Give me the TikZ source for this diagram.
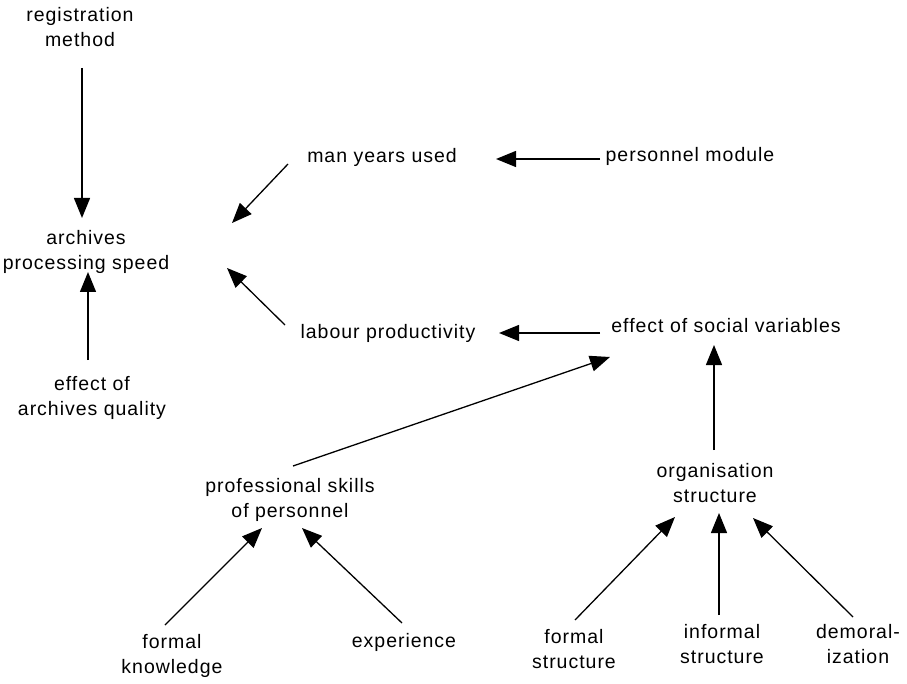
\documentclass[tikz,border=0pt]{standalone}
\usepackage{fontspec}
\setmainfont[LetterSpace=5]{Liberation Sans}
\usetikzlibrary{arrows.meta}
\begin{document}
\begin{tikzpicture}[x=1pt,y=-1pt,
  label/.style={anchor=base,align=center,inner sep=0pt,
    font=\fontsize{19.5}{25}\selectfont},
  arr/.style={-{Triangle[length=20pt,width=16pt]},line width=1.3pt}]
\useasboundingbox (0,0) rectangle (907,684);

% variables (anchored at the baseline of their last line)
\node[label] (reg)  at (80,47)   {registration\\method};
\node[label] (arch) at (86,270)  {archives\\processing speed};
\node[label] (eaq)  at (92,415)  {effect of\\archives quality};
\node[label] (man)  at (382,163) {man years used};
\node[label] (pers) at (690,162) {personnel module};
\node[label] (lab)  at (388,338) {labour productivity};
\node[label] (soc)  at (726,333) {effect of social variables};
\node[label] (prof) at (290,517) {professional skills\\of personnel};
\node[label] (org)  at (715,502) {organisation\\structure};
\node[label] (fk)   at (172,673) {formal\\knowledge};
\node[label] (exp)  at (404,647) {experience};
\node[label] (fs)   at (574,668) {formal\\structure};
\node[label] (is)   at (722,663) {informal\\structure};
\node[label] (dem)  at (858,663) {demoral-\\ization};

% influences
\draw[arr] ([shift={(2,21)}]reg.base)     -- ([shift={(-4,-52)}]arch.base);
\draw[arr] ([shift={(-4,-55)}]eaq.base)   -- ([shift={(2,2)}]arch.base);
\draw[arr] ([shift={(-94,1)}]man.base)    -- ([shift={(146,-47)}]arch.base);
\draw[arr] ([shift={(-90,-3)}]pers.base)  -- ([shift={(114,-4)}]man.base);
\draw[arr] ([shift={(-103,-13)}]lab.base) -- ([shift={(141,-2)}]arch.base);
\draw[arr] ([shift={(-126,0)}]soc.base)   -- ([shift={(111,-5)}]lab.base);
\draw[arr] ([shift={(3,-51)}]prof.base)   -- ([shift={(-116,24)}]soc.base);
\draw[arr] ([shift={(-1,-52)}]org.base)   -- ([shift={(-12,12)}]soc.base);
\draw[arr] ([shift={(-7,-48)}]fk.base)    -- ([shift={(-28,11)}]prof.base);
\draw[arr] ([shift={(-2,-24)}]exp.base)   -- ([shift={(12,11)}]prof.base);
\draw[arr] ([shift={(1,-48)}]fs.base)     -- ([shift={(-40,15)}]org.base);
\draw[arr] ([shift={(-3,-48)}]is.base)    -- ([shift={(4,11)}]org.base);
\draw[arr] ([shift={(-5,-46)}]dem.base)   -- ([shift={(38,16)}]org.base);
\end{tikzpicture}
\end{document}
